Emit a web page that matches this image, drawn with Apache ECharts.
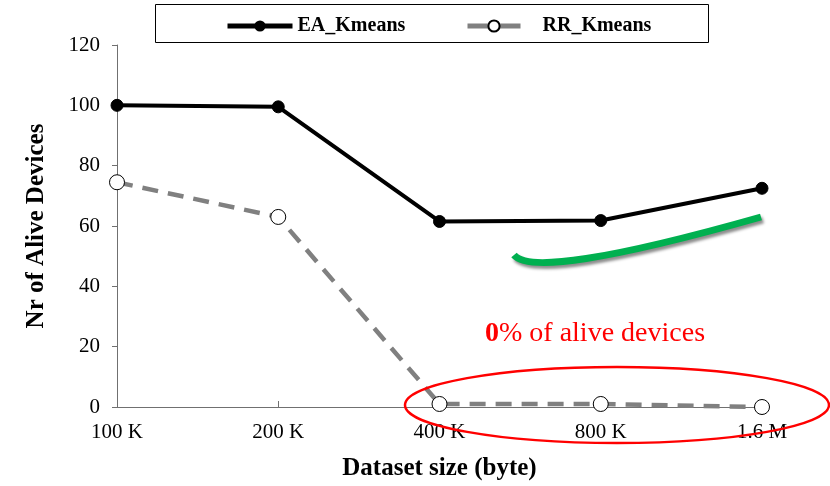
<!DOCTYPE html>
<html><head><meta charset="utf-8">
<script src="https://cdn.jsdelivr.net/npm/echarts@6/dist/echarts.min.js"></script>
<style>html,body{margin:0;padding:0;background:#fff}#c{width:830px;height:486px}</style>
</head><body><div id="c"></div>
<script>
const categories = ['100 K', '200 K', '400 K', '800 K', '1.6 M'];
const eaKmeans = [100, 99.5, 61.5, 61.8, 72.5];
const rrKmeans = [74.5, 63, 1, 1, 0];
const yTicks = { min: 0, max: 120, interval: 20 };

const chart = echarts.init(document.getElementById('c'));
const serif = 'Liberation Serif';
chart.setOption({
  animation: false,
  backgroundColor: '#fff',
  grid: { left: 117, right: 68, top: 45, bottom: 79 },
  legend: [
    { data: ['EA_Kmeans'], left: 220, top: 11, itemWidth: 65, itemHeight: 14,
      lineStyle: { width: 5 },
      textStyle: { fontFamily: serif, fontWeight: 'bold', fontSize: 20, color: '#000' } },
    { data: ['RR_Kmeans'], left: 460, top: 11, itemWidth: 53, itemHeight: 14,
      lineStyle: { width: 5, type: 'solid' },
      textStyle: { fontFamily: serif, fontWeight: 'bold', fontSize: 20, color: '#000', padding: [0, 0, 0, 17] } }
  ],
  xAxis: {
    type: 'category', data: categories, boundaryGap: false,
    name: 'Dataset size (byte)', nameLocation: 'middle', nameGap: 49,
    nameTextStyle: { fontFamily: serif, fontWeight: 'bold', fontSize: 25, color: '#000' },
    axisLine: { lineStyle: { color: '#707070', width: 1 } },
    axisTick: { inside: true, length: 6, alignWithLabel: true, lineStyle: { color: '#707070' } },
    axisLabel: { fontFamily: serif, fontSize: 21, color: '#000', margin: 15 },
    splitLine: { show: false }
  },
  yAxis: {
    type: 'value', min: yTicks.min, max: yTicks.max, interval: yTicks.interval,
    name: 'Nr of Alive Devices', nameLocation: 'middle', nameGap: 68, nameRotate: 90,
    nameTextStyle: { fontFamily: serif, fontWeight: 'bold', fontSize: 25, color: '#000' },
    axisLine: { show: true, lineStyle: { color: '#707070', width: 1 } },
    axisTick: { show: true, length: 5, lineStyle: { color: '#707070' } },
    axisLabel: { fontFamily: serif, fontSize: 21, color: '#000', margin: 17 },
    splitLine: { show: false }
  },
  series: [
    { name: 'EA_Kmeans', type: 'line', data: eaKmeans, symbol: 'circle', symbolSize: 12,
      lineStyle: { color: '#000', width: 4 }, itemStyle: { color: '#000', borderColor: '#000' }, z: 3 },
    { name: 'RR_Kmeans', type: 'line', data: rrKmeans, symbol: 'circle', symbolSize: 15,
      lineStyle: { color: '#808080', width: 4.5, type: [16, 10] },
      itemStyle: { color: '#fff', borderColor: '#000', borderWidth: 1 }, z: 2 }
  ],
  graphic: [
    { type: 'rect', shape: { x: 155.5, y: 4.5, width: 553, height: 38 }, style: { fill: 'none', stroke: '#000', lineWidth: 1 }, z: 0 },
    { type: 'bezierCurve', shape: { x1: 514, y1: 255, cpx1: 535, cpy1: 281, x2: 761, y2: 217 },
      style: { stroke: '#00b050', lineWidth: 7, fill: 'none', shadowColor: 'rgba(0,0,0,0.45)', shadowBlur: 3, shadowOffsetX: 2, shadowOffsetY: 3 }, z: 10 },
    { type: 'ellipse', shape: { cx: 617, cy: 405, rx: 212, ry: 38 }, style: { fill: 'none', stroke: '#ff0000', lineWidth: 2.5 }, z: 10 },
    { type: 'text', left: 485, top: 320, style: {
        text: '{b|0}{n|% of alive devices}',
        rich: { b: { fontFamily: serif, fontWeight: 'bold', fontSize: 28, fill: '#ff0000' },
                n: { fontFamily: serif, fontSize: 28, fill: '#ff0000' } } }, z: 10 }
  ]
});
</script></body></html>
